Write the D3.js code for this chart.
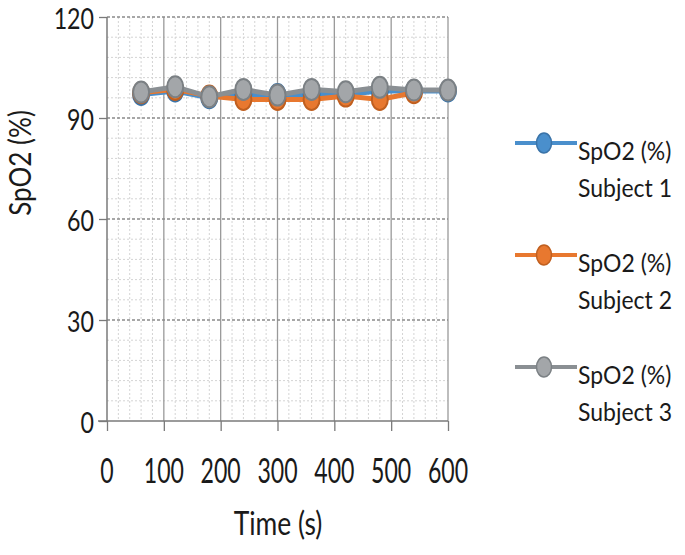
<!DOCTYPE html>
<html><head><meta charset="utf-8">
<script src="https://cdn.jsdelivr.net/npm/d3@7"></script>
<style>body{margin:0;background:#fff}svg{display:block}text{font-family:Lato,"Open Sans",sans-serif;fill:#1a1a1a}</style>
</head><body><svg id="c" width="685" height="555"></svg>
<script>
const times = [60,120,180,240,300,360,420,480,540,600];
const subject1 = [97,98,96,97,97,97,97,98,98,98];
const subject2 = [97.5,98.5,96.5,95.5,95.5,95.5,96.5,95.5,97.5];
const subject3 = [97.7,99.3,96.3,98.5,96.8,98.5,97.8,99.1,98.3,98.3];
const seriesNames = ["Subject 1","Subject 2","Subject 3"];
const colors = ["#4a8fcc","#e8782f","#a3a6a9"];
const strokes = ["#3a73a8","#c05f1f","#7b8084"];
const xTicks = [0,100,200,300,400,500,600];
const yTicks = [0,30,60,90,120];

const svg = d3.select("#c");
const L=107,R=448,T=17,B=421;
const x = d3.scaleLinear().domain([0,600]).range([L,R]);
const y = d3.scaleLinear().domain([0,120]).range([B,T]);

const g = svg.append("g");
g.selectAll(".mvx").data(d3.range(0,601,20).filter(v=>v%100)).enter().append("line")
 .attr("x1",d=>x(d)).attr("x2",d=>x(d)).attr("y1",T).attr("y2",B)
 .attr("stroke","#d4d4d4").attr("stroke-width",1).attr("stroke-dasharray","2,2");
g.selectAll(".mhy").data(d3.range(0,121,6).filter(v=>v%30)).enter().append("line")
 .attr("x1",L).attr("x2",R).attr("y1",d=>y(d)).attr("y2",d=>y(d))
 .attr("stroke","#d4d4d4").attr("stroke-width",1).attr("stroke-dasharray","2,2");
g.selectAll(".Mvx").data(xTicks.slice(1)).enter().append("line")
 .attr("x1",d=>x(d)).attr("x2",d=>x(d)).attr("y1",T).attr("y2",B)
 .attr("stroke","#9a9a9a").attr("stroke-width",1.3);
g.selectAll(".Mhy").data(yTicks.slice(1)).enter().append("line")
 .attr("x1",L).attr("x2",R).attr("y1",d=>y(d)).attr("y2",d=>y(d))
 .attr("stroke","#8a8a8a").attr("stroke-width",1.3).attr("stroke-dasharray","3,2");

const xa = svg.append("g").attr("transform",`translate(0,${B})`)
 .call(d3.axisBottom(x).tickValues(xTicks).tickSize(10).tickFormat(""));
xa.select(".domain").attr("stroke","#7a7a7a").attr("stroke-width",1.5).attr("d",`M${L-9},0H${R}`);
xa.selectAll(".tick line").attr("stroke","#7a7a7a").attr("stroke-width",1.3);
const ya = svg.append("g").attr("transform",`translate(${L},0)`)
 .call(d3.axisLeft(y).tickValues(yTicks).tickSize(8).tickFormat(""));
ya.select(".domain").attr("stroke","#7a7a7a").attr("stroke-width",1.5).attr("d",`M0,${T}V${B}`);
ya.selectAll(".tick line").attr("stroke","#7a7a7a").attr("stroke-width",1.3);

function txt(s,px,py,size,sx,anchor,rot){
  return svg.append("text").text(s).attr("font-size",size).attr("text-anchor",anchor||"start")
   .attr("transform",`translate(${px},${py})`+(rot?` rotate(${rot})`:"")+` scale(${sx},1)`);
}
xTicks.forEach(v=>txt(String(v),x(v),483,34,0.68,"middle"));
yTicks.forEach(v=>txt(String(v),L-13,y(v)+12,29,0.8,"end"));
txt("Time (s)",278,535,33,0.8,"middle");
txt("SpO2 (%)",31,163,31,0.84,"middle",-90);

const all = [subject1,subject2,subject3];
const line = d3.line().x(d=>x(d[0])).y(d=>y(d[1]));
all.forEach((vals,i)=>{
  const pts = vals.map((v,j)=>[times[j],v]);
  svg.append("path").datum(pts).attr("d",line).attr("fill","none")
   .attr("stroke",i==2?"#8a8f93":colors[i]).attr("stroke-width",5);
  svg.selectAll(null).data(pts).enter().append("ellipse")
   .attr("cx",d=>x(d[0])).attr("cy",d=>y(d[1])).attr("rx",8).attr("ry",10.5)
   .attr("fill",colors[i]).attr("stroke",strokes[i]).attr("stroke-width",2);
});

const legY = [143,255,367];
seriesNames.forEach((n,i)=>{
  const ly = legY[i];
  svg.append("line").attr("x1",515).attr("x2",577).attr("y1",ly).attr("y2",ly)
   .attr("stroke",i==2?"#8a8f93":colors[i]).attr("stroke-width",4);
  svg.append("ellipse").attr("cx",544).attr("cy",ly).attr("rx",7.5).attr("ry",10)
   .attr("fill",colors[i]).attr("stroke",strokes[i]).attr("stroke-width",1.5);
  txt("SpO2 (%)",578,ly+17,25,0.92,"start");
  txt(n,578,ly+54,25,0.92,"start");
});
</script></body></html>
